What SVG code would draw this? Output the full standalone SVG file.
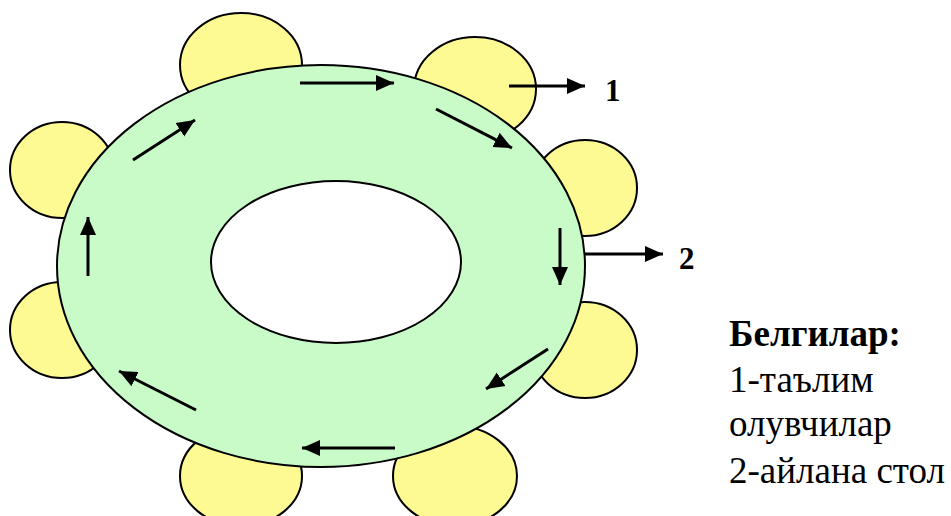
<svg xmlns="http://www.w3.org/2000/svg" width="951" height="516" viewBox="0 0 951 516">
<defs>
<marker id="a" markerUnits="userSpaceOnUse" markerWidth="20" markerHeight="18" refX="18" refY="9" orient="auto"><path d="M0 1L18 9L0 17Z" fill="#000"/></marker>
</defs>
<style>
.s{fill:#fdf993;stroke:#000;stroke-width:2}
.c{fill:none;stroke:#000;stroke-width:3;marker-end:url(#a)}
.t{font-family:"Liberation Serif",serif;font-size:37px;fill:#000}
.b{font-weight:bold}
.n{font-size:31px}
</style>
<rect width="951" height="516" fill="#fff"/>
<g id="seat-1"><ellipse class="s" cx="241" cy="65" rx="61" ry="52"/></g>
<g id="seat-2"><ellipse class="s" cx="475" cy="89" rx="61" ry="52"/></g>
<g id="seat-3"><ellipse class="s" cx="585" cy="188" rx="52" ry="48"/></g>
<g id="seat-4"><ellipse class="s" cx="585" cy="350" rx="52" ry="48"/></g>
<g id="seat-5"><ellipse class="s" cx="455" cy="476" rx="62" ry="50"/></g>
<g id="seat-6"><ellipse class="s" cx="241" cy="476" rx="61" ry="50"/></g>
<g id="seat-7"><ellipse class="s" cx="62" cy="330" rx="52" ry="48"/></g>
<g id="seat-8"><ellipse class="s" cx="62" cy="170" rx="52" ry="48"/></g>
<g id="table"><path fill="#c8fbc8" fill-rule="evenodd" stroke="#000" stroke-width="2" d="M57 266a264 201 0 1 0 528 0a264 201 0 1 0-528 0ZM211 262a125 81 0 1 0 250 0a125 81 0 1 0-250 0Z"/></g>
<g id="connectors">
<line class="c" x1="300" y1="83" x2="394" y2="83"/>
<line class="c" x1="436" y1="109" x2="512" y2="148"/>
<line class="c" x1="560" y1="228" x2="560" y2="285"/>
<line class="c" x1="548" y1="349" x2="486" y2="389"/>
<line class="c" x1="395" y1="448" x2="302" y2="448"/>
<line class="c" x1="196" y1="410" x2="119" y2="371"/>
<line class="c" x1="88" y1="276" x2="88" y2="217"/>
<line class="c" x1="133" y1="160" x2="195" y2="120"/>
<line class="c" x1="509" y1="86" x2="585" y2="86"/>
<line class="c" x1="585" y1="254" x2="663" y2="254"/>
</g>
<g id="labels">
<text class="t b n" x="605" y="101">1</text>
<text class="t b n" x="679" y="269">2</text>
<text class="t b" x="729" y="346">Белгилар:</text>
<text class="t" x="729" y="392">1-таълим</text>
<text class="t" x="729" y="436">олувчилар</text>
<text class="t" x="729" y="483">2-айлана стол</text>
</g>
</svg>
